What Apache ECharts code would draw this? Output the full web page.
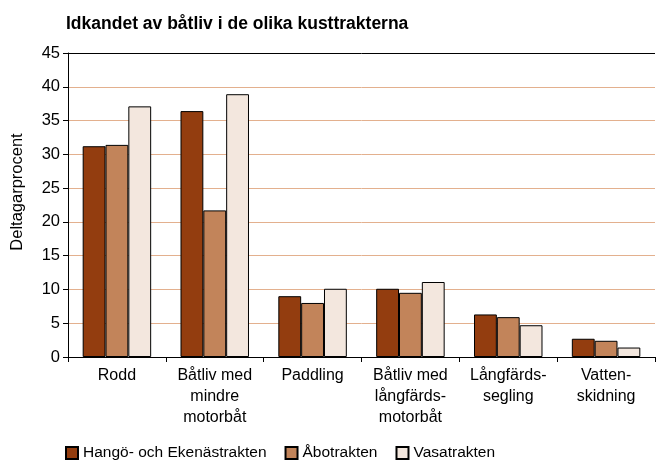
<!DOCTYPE html>
<html>
<head>
<meta charset="utf-8">
<script src="https://cdn.jsdelivr.net/npm/echarts@6/dist/echarts.min.js"></script>
<style>
  html, body { margin: 0; padding: 0; background: #fff; }
  #chart { width: 666px; height: 461px; }
</style>
</head>
<body>
<div id="chart"></div>
<script>
// data
const categories = ['Rodd', 'Båtliv med\nmindre\nmotorbåt', 'Paddling', 'Båtliv med\nlångfärds-\nmotorbåt', 'Långfärds-\nsegling', 'Vatten-\nskidning'];
const hangoEkenas = [31.2, 36.4, 9.0, 10.1, 6.3, 2.7];
const abo = [31.4, 21.7, 8.0, 9.5, 5.9, 2.4];
const vasa = [37.1, 38.9, 10.1, 11.1, 4.7, 1.4];
const seriesNames = ['Hangö- och Ekenästrakten', 'Åbotrakten', 'Vasatrakten'];
const yTicks = [0, 5, 10, 15, 20, 25, 30, 35, 40, 45];

const colors = ['#933d0f', '#c2845a', '#f3e7de'];
const font = '"Liberation Sans", Arial, sans-serif';

// grid line colours: tan everywhere, black at the top (45)
let gridColors = yTicks.map(function (v) { return v === 45 ? '#000' : '#e3b08e'; });

function bar(name, data, idx) {
  return {
    name: name,
    type: 'bar',
    data: data,
    barGap: '0%',
    barCategoryGap: '30%',
    itemStyle: { color: colors[idx], borderColor: '#000', borderWidth: 1 }
  };
}

const chart = echarts.init(document.getElementById('chart'));
chart.setOption({
  animation: false,
  textStyle: { fontFamily: font },
  title: {
    text: 'Idkandet av båtliv i de olika kusttrakterna',
    left: 61, top: 10,
    textStyle: { fontFamily: font, fontSize: 17.5, fontWeight: 'bold', color: '#000' }
  },
  grid: { left: 68, right: 11, top: 53, bottom: 104 },
  legend: {
    top: 440, left: 60,
    itemWidth: 12, itemHeight: 12, itemGap: 18,
    icon: 'rect',
    textStyle: { fontFamily: font, fontSize: 15.5, color: '#000' },
    data: seriesNames
  },
  xAxis: {
    type: 'category',
    data: categories,
    axisLine: { lineStyle: { color: '#000', width: 1 } },
    axisTick: { show: true, length: 5, lineStyle: { color: '#000' } },
    axisLabel: { color: '#000', fontSize: 16, lineHeight: 21, margin: 8, interval: 0 }
  },
  yAxis: {
    type: 'value',
    min: 0, max: 45, interval: 5,
    name: 'Deltagarprocent',
    nameLocation: 'middle',
    nameGap: 42,
    nameTextStyle: { fontFamily: font, fontSize: 16.5, color: '#000', padding: [0, 0, 0, 26] },
    axisLine: { show: true, lineStyle: { color: '#000', width: 1 } },
    axisTick: { show: true, length: 5, lineStyle: { color: '#000' } },
    axisLabel: { color: '#000', fontSize: 16.5, margin: 8 },
    splitLine: { show: true, lineStyle: { color: gridColors, width: 1 } }
  },
  series: [
    bar(seriesNames[0], hangoEkenas, 0),
    bar(seriesNames[1], abo, 1),
    bar(seriesNames[2], vasa, 2)
  ]
});
</script>
</body>
</html>
